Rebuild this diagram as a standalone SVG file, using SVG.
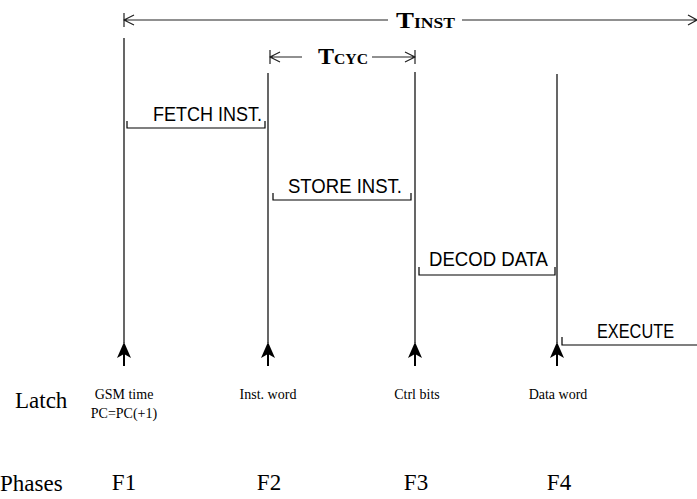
<svg xmlns="http://www.w3.org/2000/svg" width="697" height="499" viewBox="0 0 697 499">
  <style>
    .ln { stroke: #000; stroke-width: 1.2; fill: none; }
    .dim { stroke: #222; stroke-width: 1.2; fill: none; }
    .stem { stroke: #000; stroke-width: 2; fill: none; }
    .head { fill: #000; }
    .bt { font-family: "Liberation Serif", "Times New Roman", serif; font-weight: bold; fill: #000; }
    .act { font-family: "Liberation Sans", Arial, sans-serif; font-size: 21px; fill: #000; }
    .lab { font-family: "Liberation Serif", "Times New Roman", serif; font-size: 14px; fill: #000; text-anchor: middle; }
    .big { font-family: "Liberation Serif", "Times New Roman", serif; font-size: 23px; fill: #000; }
  </style>
  <defs>
    <path id="latchArrow" class="head" d="M0,0 L7,16 L0,12 L-7,16 Z"/>
  </defs>

  <!-- instruction period dimension -->
  <g id="t-inst">
    <path class="dim" d="M124,13 V27 M124,20 H388 M462,20 H697 M134,15 L124,20 L134,25 M688,15 L697,20 L688,25"/>
    <text class="bt" x="396" y="28" font-size="23" textLength="59" lengthAdjust="spacingAndGlyphs">T<tspan font-size="15">INST</tspan></text>
  </g>

  <!-- cycle period dimension -->
  <g id="t-cyc">
    <path class="dim" d="M270,50 V64 M415,50 V64 M270,57 H302 M372,57 H415 M280,52 L270,57 L280,62 M405,52 L415,57 L405,62"/>
    <text class="bt" x="318" y="64" font-size="23" textLength="50" lengthAdjust="spacingAndGlyphs">T<tspan font-size="15">CYC</tspan></text>
  </g>

  <!-- phase timing lines with latch strobes -->
  <g id="phase-f1">
    <path class="ln" d="M124,38 V343"/>
    <path class="stem" d="M124,352 V366"/>
    <use href="#latchArrow" x="124" y="342"/>
    <text class="lab" x="124" y="399">GSM time</text>
    <text class="lab" x="124" y="418">PC=PC(+1)</text>
    <text class="big" x="124" y="490" font-size="22" text-anchor="middle">F1</text>
  </g>
  <g id="phase-f2">
    <path class="ln" d="M268,73 V343"/>
    <path class="stem" d="M268,352 V366"/>
    <use href="#latchArrow" x="268" y="342"/>
    <text class="lab" x="268" y="399">Inst. word</text>
    <text class="big" x="269" y="490" font-size="22" text-anchor="middle">F2</text>
  </g>
  <g id="phase-f3">
    <path class="ln" d="M415,72 V343"/>
    <path class="stem" d="M415,352 V366"/>
    <use href="#latchArrow" x="415" y="342"/>
    <text class="lab" x="417" y="399">Ctrl bits</text>
    <text class="big" x="416" y="490" font-size="22" text-anchor="middle">F3</text>
  </g>
  <g id="phase-f4">
    <path class="ln" d="M557,74 V343"/>
    <path class="stem" d="M557,352 V366"/>
    <use href="#latchArrow" x="557" y="342"/>
    <text class="lab" x="558" y="399">Data word</text>
    <text class="big" x="559" y="490" font-size="22" text-anchor="middle">F4</text>
  </g>

  <!-- activity brackets -->
  <g id="fetch">
    <path class="ln" d="M127,121 V128 H265 V121"/>
    <text class="act" x="153" y="121" textLength="109" lengthAdjust="spacingAndGlyphs">FETCH INST.</text>
  </g>
  <g id="store">
    <path class="ln" d="M273,193 V200 H411 V193"/>
    <text class="act" x="288" y="193" textLength="114" lengthAdjust="spacingAndGlyphs">STORE INST.</text>
  </g>
  <g id="decode">
    <path class="ln" d="M419,267 V275 H555 V267"/>
    <text class="act" x="429" y="266" textLength="119" lengthAdjust="spacingAndGlyphs">DECOD  DATA</text>
  </g>
  <g id="execute">
    <path class="ln" d="M562,337 V345 H697"/>
    <text class="act" x="597" y="338" textLength="77" lengthAdjust="spacingAndGlyphs">EXECUTE</text>
  </g>

  <!-- row headings -->
  <text class="big" x="15" y="408">Latch</text>
  <text class="big" x="0" y="491">Phases</text>
</svg>
